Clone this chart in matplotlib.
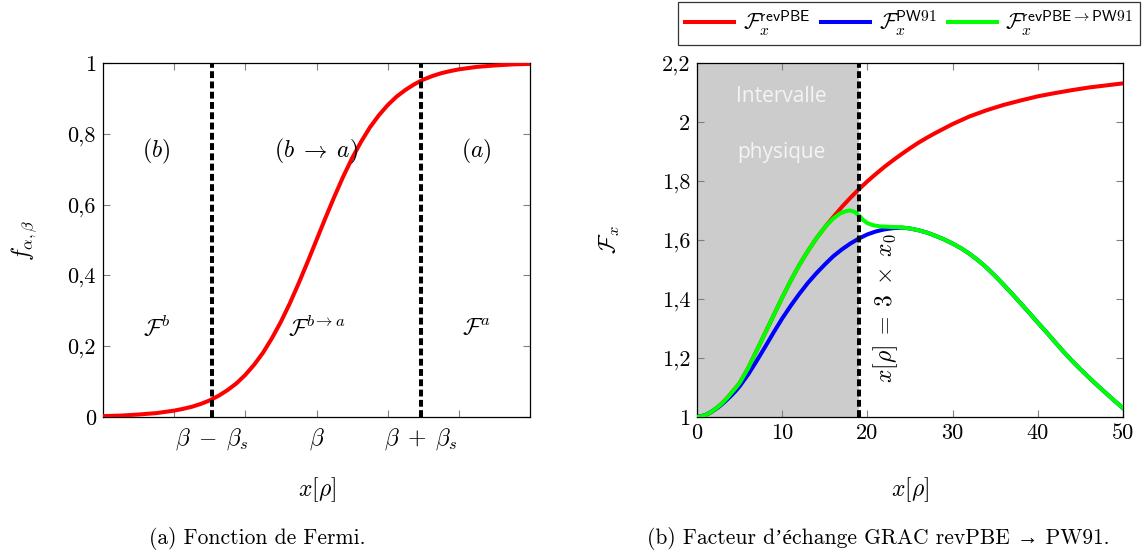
import numpy as np
import matplotlib
matplotlib.use('Agg')
import matplotlib.pyplot as plt

plt.rcParams['font.family'] = ['cmr10', 'Liberation Serif', 'DejaVu Serif']
plt.rcParams['mathtext.fontset'] = 'cm'
plt.rcParams['axes.unicode_minus'] = False

# --- (a) Fermi function
fermi_x = [-3.0, -2.75, -2.5, -2.25, -2.0, -1.875, -1.75, -1.625, -1.5, -1.375, -1.25, -1.125,
           -1.0, -0.875, -0.75, -0.625, -0.5, -0.375, -0.25, -0.125, 0.0, 0.125, 0.25, 0.375,
           0.5, 0.625, 0.75, 0.875, 1.0, 1.125, 1.25, 1.375, 1.5, 1.625, 1.75, 1.875, 2.0,
           2.25, 2.5, 2.75, 3.0]
fermi_y = [0.0025, 0.004, 0.007, 0.011, 0.018, 0.023, 0.029, 0.037, 0.047, 0.060, 0.076, 0.095,
           0.119, 0.148, 0.182, 0.223, 0.269, 0.321, 0.378, 0.438, 0.5, 0.562, 0.622, 0.679,
           0.731, 0.777, 0.818, 0.852, 0.881, 0.905, 0.924, 0.940, 0.953, 0.963, 0.971, 0.977,
           0.982, 0.989, 0.993, 0.996, 0.9975]
beta_s = 1.47
fermi_yticks = [0, 0.2, 0.4, 0.6, 0.8, 1.0]
fermi_yticklabels = ['0', '0,2', '0,4', '0,6', '0,8', '1']

# --- (b) exchange enhancement factors
revpbe_x = [0, 0.5, 1, 1.5, 2, 2.5, 3, 3.5, 4, 4.5, 5, 6, 7, 8, 9, 10, 11, 12, 13, 14, 15, 16,
            17, 18, 19, 20, 21, 22, 23, 24, 25, 26, 27, 28, 29, 30, 32, 34, 36, 38, 40, 42, 44,
            46, 48, 50]
revpbe_y = [1.0, 1.002, 1.007, 1.014, 1.024, 1.035, 1.048, 1.063, 1.080, 1.097, 1.115, 1.165,
            1.225, 1.285, 1.345, 1.405, 1.462, 1.515, 1.562, 1.605, 1.643, 1.678, 1.712, 1.743,
            1.772, 1.799, 1.824, 1.848, 1.870, 1.891, 1.911, 1.930, 1.947, 1.963, 1.978, 1.993,
            2.019, 2.040, 2.058, 2.073, 2.087, 2.098, 2.108, 2.117, 2.124, 2.131]

pw91_x = [0, 0.5, 1, 1.5, 2, 2.5, 3, 3.5, 4, 4.5, 5, 6, 7, 8, 9, 10, 11, 12, 13, 14, 15, 16,
          17, 18, 19, 20, 21, 22, 23, 24, 25, 26, 27, 28, 29, 30, 31, 32, 33, 34, 35, 36, 37,
          38, 39, 40, 41, 42, 43, 44, 45, 46, 47, 48, 49, 50]
pw91_y = [1.0, 1.002, 1.007, 1.014, 1.023, 1.033, 1.045, 1.058, 1.072, 1.087, 1.104, 1.144,
          1.190, 1.238, 1.287, 1.334, 1.377, 1.417, 1.454, 1.487, 1.517, 1.545, 1.568, 1.588,
          1.605, 1.619, 1.629, 1.636, 1.640, 1.642, 1.639, 1.633, 1.625, 1.614, 1.602, 1.588,
          1.572, 1.553, 1.531, 1.506, 1.478, 1.448, 1.417, 1.385, 1.353, 1.320, 1.288, 1.255,
          1.222, 1.191, 1.162, 1.134, 1.107, 1.081, 1.055, 1.030]

mix_x = [0, 0.5, 1, 1.5, 2, 2.5, 3, 3.5, 4, 4.5, 5, 6, 7, 8, 9, 10, 11, 12, 13, 14, 15, 16,
         16.8, 17.5, 18, 18.5, 19, 19.5, 20, 20.7, 21.5, 22.3, 23, 24, 25, 26, 27, 28, 29, 30,
         31, 32, 33, 34, 35, 36, 37, 38, 39, 40, 41, 42, 43, 44, 45, 46, 47, 48, 49, 50]
mix_y = [1.0, 1.002, 1.007, 1.014, 1.024, 1.035, 1.048, 1.063, 1.080, 1.097, 1.115, 1.165,
         1.225, 1.285, 1.345, 1.405, 1.462, 1.515, 1.562, 1.605, 1.643, 1.673, 1.690, 1.698,
         1.700, 1.695, 1.683, 1.668, 1.657, 1.650, 1.646, 1.645, 1.644, 1.643, 1.639, 1.633,
         1.625, 1.614, 1.602, 1.588, 1.572, 1.553, 1.531, 1.506, 1.478, 1.448, 1.417, 1.385,
         1.353, 1.320, 1.288, 1.255, 1.222, 1.191, 1.162, 1.134, 1.107, 1.081, 1.055, 1.030]

x_cut = 19
fx_xticks = [0, 10, 20, 30, 40, 50]
fx_yticks = [1.0, 1.2, 1.4, 1.6, 1.8, 2.0, 2.2]
fx_yticklabels = ['1', '1,2', '1,4', '1,6', '1,8', '2', '2,2']

fs_tick = 16
fs_math = 17

fig = plt.figure(figsize=(11.48, 5.54), dpi=100)
ax1 = fig.add_axes([103 / 1148, 137 / 554, 427 / 1148, 354 / 554])
ax2 = fig.add_axes([697 / 1148, 137 / 554, 426 / 1148, 354 / 554])

for ax in (ax1, ax2):
    ax.tick_params(direction='in', top=True, right=True, length=5, width=0.8,
                   color='0.5', labelsize=fs_tick, pad=5)
    for sp in ax.spines.values():
        sp.set_linewidth(0.9)

lw = 2.9
dash = (1.7, 0.85)

# (a)
ax1.plot(fermi_x, fermi_y, color='#ff0000', lw=lw, solid_joinstyle='round',
         solid_capstyle='butt', zorder=3)
for xv in (-beta_s, beta_s):
    ax1.axvline(xv, color='black', lw=lw, dashes=dash, zorder=4)
ax1.set_xlim(-3, 3)
ax1.set_ylim(0, 1)
ax1.set_xticks([-2, -1, 0, 1, 2], ['', '', r'$\beta$', '', ''])
ax1.set_xticks([-beta_s, beta_s], [r'$\beta\;-\;\beta_s$', r'$\beta\;+\;\beta_s$'], minor=True)
ax1.tick_params(axis='x', which='both', labelsize=fs_math, pad=7)
ax1.tick_params(axis='x', which='minor', length=0)
ax1.set_yticks(fermi_yticks, fermi_yticklabels)
ax1.set_xlabel(r'$x[\rho]$', fontsize=fs_math)
ax1.xaxis.set_label_coords(0.5, -0.165)
ax1.set_ylabel(r'$f_{\alpha,\beta}$', fontsize=fs_math)
ax1.yaxis.set_label_coords(-0.15, 0.5)
for xt, t1, t2 in [(-2.25, r'$(b)$', r'$\mathcal{F}^{b}$'),
                   (0.0, r'$(b\;\rightarrow\;a)$', r'$\mathcal{F}^{b\rightarrow a}$'),
                   (2.25, r'$(a)$', r'$\mathcal{F}^{a}$')]:
    ax1.text(xt, 0.75, t1, ha='center', va='center', fontsize=fs_math)
    ax1.text(xt, 0.25, t2, ha='center', va='center', fontsize=fs_math)

# (b)
ax2.axvspan(0, x_cut, color='#cccccc', lw=0, zorder=0)
l1, = ax2.plot(revpbe_x, revpbe_y, color='#ff0000', lw=lw, solid_joinstyle='round', zorder=3)
l2, = ax2.plot(pw91_x, pw91_y, color='#0000ff', lw=lw, solid_joinstyle='round', zorder=3)
l3, = ax2.plot(mix_x, mix_y, color='#00ff00', lw=lw, solid_joinstyle='round', zorder=3)
ax2.axvline(x_cut, color='black', lw=lw, dashes=dash, zorder=4)
ax2.set_xlim(0, 50)
ax2.set_ylim(1, 2.2)
ax2.set_xticks(fx_xticks)
ax2.set_yticks(fx_yticks, fx_yticklabels)
ax2.set_xlabel(r'$x[\rho]$', fontsize=fs_math)
ax2.xaxis.set_label_coords(0.5, -0.165)
ax2.set_ylabel(r'$\mathcal{F}_x$', fontsize=fs_math)
ax2.yaxis.set_label_coords(-0.176, 0.5)
ax2.text(9.9, 2.085, 'Intervalle', color='#f4f4f4', fontsize=15, family='Open Sans',
         ha='center', va='center')
ax2.text(9.9, 1.895, 'physique', color='#f4f4f4', fontsize=15, family='Open Sans',
         ha='center', va='center')
ax2.text(22.1, 1.37, r'$x[\rho]\;=\;3\;\times\;x_0$', rotation=90, fontsize=fs_math,
         ha='center', va='center')

leg = fig.legend([l1, l2, l3],
                 [r'$\mathcal{F}_x^{\mathsf{revPBE}}$', r'$\mathcal{F}_x^{\mathsf{PW91}}$',
                  r'$\mathcal{F}_x^{\mathsf{revPBE}\rightarrow\mathsf{PW91}}$'],
                 ncol=3, loc='upper right', bbox_to_anchor=(1140 / 1148, 1 - 2 / 554),
                 fontsize=16, frameon=True, fancybox=False, handlelength=2.2,
                 handletextpad=0.4, columnspacing=0.5, borderpad=0.3, borderaxespad=0)
leg.get_frame().set_edgecolor('black')
leg.get_frame().set_linewidth(0.9)

fig.text(257 / 1148, 1 - 538 / 554, '(a) Fonction de Fermi.', ha='center', va='center',
         fontsize=15.5)
fig.text(878 / 1148, 1 - 538 / 554, '(b) Facteur d\u2019\u00e9change GRAC revPBE \u2192 PW91.',
         ha='center', va='center', fontsize=15.5)

fig.savefig('out.png', dpi=100)
